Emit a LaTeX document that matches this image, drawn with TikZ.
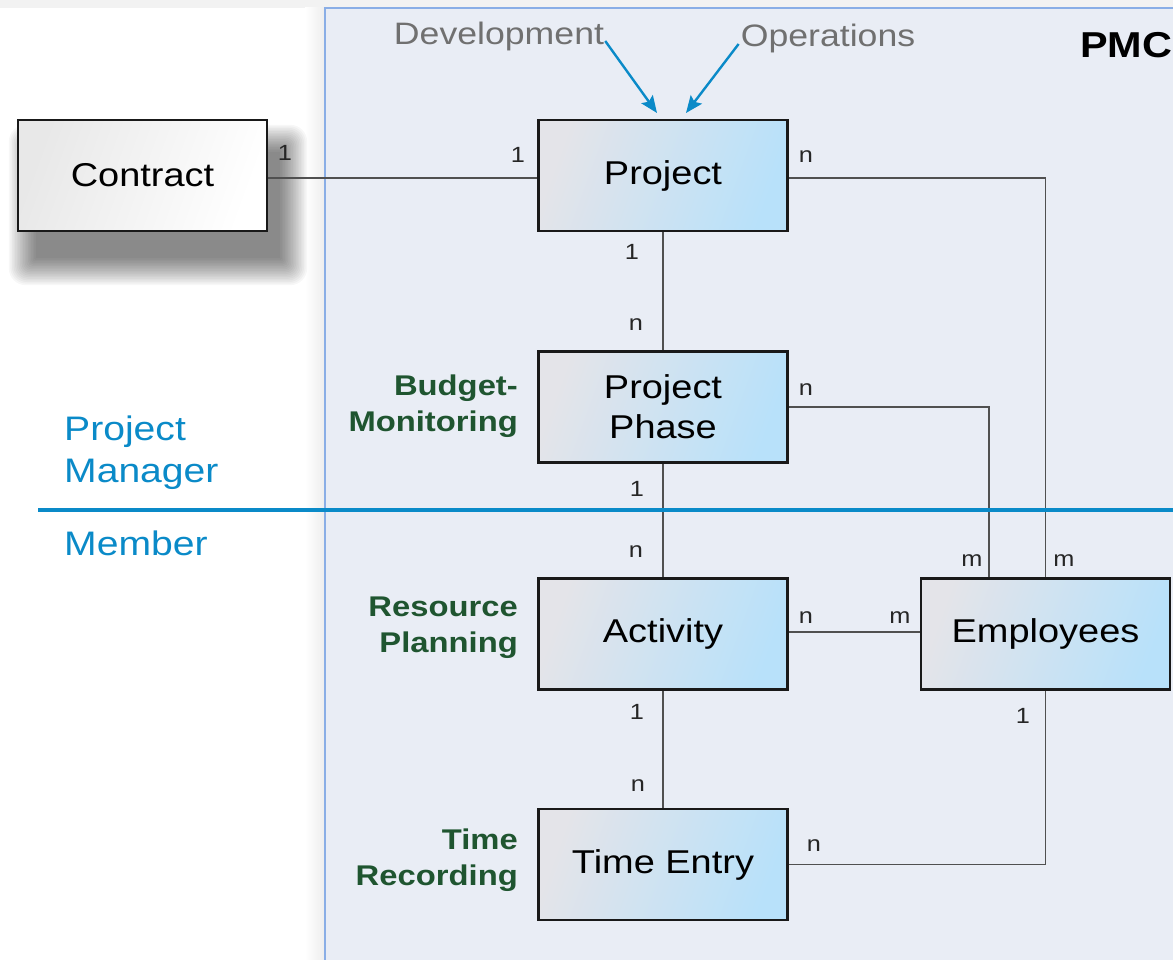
\documentclass[tikz,border=0pt]{standalone}
\usepackage{fontspec}
\setmainfont[FakeStretch=1.15]{Liberation Sans}
\usetikzlibrary{arrows.meta,calc}
\definecolor{panelfill}{HTML}{E9EDF5}
\definecolor{panelline}{HTML}{8AAEE6}
\definecolor{boxL}{HTML}{E4E4E9}
\definecolor{boxR}{HTML}{B8E1FA}
\definecolor{conn}{HTML}{505050}
\definecolor{pmblue}{HTML}{0A8AC8}
\definecolor{dgreen}{HTML}{1F5530}
\definecolor{graytxt}{HTML}{707070}
\tikzset{
  entity/.style={draw=black!90, line width=2.6pt, left color=boxL, right color=boxR, shading angle=70,
    minimum width=249pt, minimum height=111pt, inner sep=0pt, align=center,
    font=\fontsize{33}{40}\selectfont},
  whitebox/.style={draw=black!90, line width=2.6pt, left color=white!91!black, right color=white, shading angle=70,
    minimum width=249pt, minimum height=111pt, inner sep=0pt, align=center,
    font=\fontsize{33}{40}\selectfont},
  rel/.style={draw=conn, line width=1.9pt},
  card/.style={font=\fontsize{22}{24}\selectfont, text=black!85, inner sep=0pt},
  task/.style={font=\bfseries\fontsize{28.5}{36}\selectfont, text=dgreen, align=right, anchor=east, inner sep=0pt},
  role/.style={font=\fontsize{34}{42}\selectfont, text=pmblue, align=left, anchor=west, inner sep=0pt},
  origin/.style={font=\fontsize{31}{36}\selectfont, text=graytxt, inner sep=0pt},
  feed/.style={draw=pmblue, line width=2.4pt, -{Stealth[length=17pt,width=14pt,inset=3pt]}}
}
\begin{document}
\begin{tikzpicture}[x=1pt,y=-1pt]
\useasboundingbox (0,0) rectangle (1173,960);
% background
\fill[white] (0,0) rectangle (1173,960);
\fill[white!95!black] (0,0) rectangle (1173,8);
\shade[left color=white, right color=white!93!black] (305,8) rectangle (325,960);
% panel
\fill[panelfill] (325,8) rectangle (1180,970);
% shadow for contract
\foreach \i in {0,...,17}{
  \fill[black, opacity=0.032, rounded corners=\i pt]
    (36-\i*1.6,152-\i*1.6) rectangle (280+\i*1.6,258+\i*1.6);
}
\draw[panelline, line width=2pt] (325,970) -- (325,8) -- (1180,8);
% entities
\node[whitebox] (contract) at (142.5,175.5) {Contract};
\node[entity] (project) at (663,175.5) {Project};
\node[entity] (phase) at (663,407) {Project\\Phase};
\node[entity] (activity) at (663,634) {Activity};
\node[entity] (timeentry) at (663,864.5) {Time Entry};
\node[entity] (employees) at (1045.5,634) {Employees};
\coordinate (empA) at ($(employees.north west)!0.277!(employees.north east)$);
% connectors
\draw[rel] (contract.east |- 0,178) -- (project.west |- 0,178);
\draw[rel] (project) -- (phase);
\draw[rel] (phase) -- (activity);
\draw[rel] (activity) -- (timeentry);
\draw[rel] (project.east |- 0,178) -| (employees.north);
\draw[rel] (phase.east) -| (empA);
\draw[rel] (activity.east |- 0,632) -- (employees.west |- 0,632);
\draw[rel] (employees.south) |- (timeentry.east);
% cardinalities
\node[card] (c1) at (285,153) {1};
\node[card] (c2) at (518,155) {1};
\node[card] (c3) at (806,157) {n};
\node[card] (c4) at (632,252) {1};
\node[card] (c5) at (636,325) {n};
\node[card] (c6) at (806,390) {n};
\node[card] (c7) at (637,489) {1};
\node[card] (c8) at (636,552) {n};
\node[card] (c9) at (972,561) {m};
\node[card] (c10) at (1064,561) {m};
\node[card] (c11) at (806,618) {n};
\node[card] (c12) at (900,618) {m};
\node[card] (c13) at (637,712) {1};
\node[card] (c14) at (638,786) {n};
\node[card] (c15) at (1023,716) {1};
\node[card] (c16) at (814,846) {n};
% task labels
\node[task] (t1) at (518,406) {Budget-\\Monitoring};
\node[task] (t2) at (518,628) {Resource\\Planning};
\node[task] (t3) at (518,860) {Time\\Recording};
% origins
\node[origin] (dev) at (499,36) {Development};
\node[origin] (ops) at (828,38) {Operations};
\coordinate (devEnd) at (657,113);
\coordinate (opsEnd) at (686,113);
\draw[feed] (dev.east) ++(1,5) coordinate (devStart) (devStart) -- (devEnd);
\draw[feed] (ops.west) ++(-2,6) coordinate (opsStart) (opsStart) -- (opsEnd);
\node[font=\bfseries\fontsize{36}{40}\selectfont, anchor=west, inner sep=0pt] (pmc) at (1080,45) {PMC};
% roles
\draw[pmblue, line width=4pt] (38,510) -- (1180,510);
\node[role] (pm) at (64,453) {Project\\Manager};
\node[role] (mem) at (64,543) {Member};
\end{tikzpicture}
\end{document}
